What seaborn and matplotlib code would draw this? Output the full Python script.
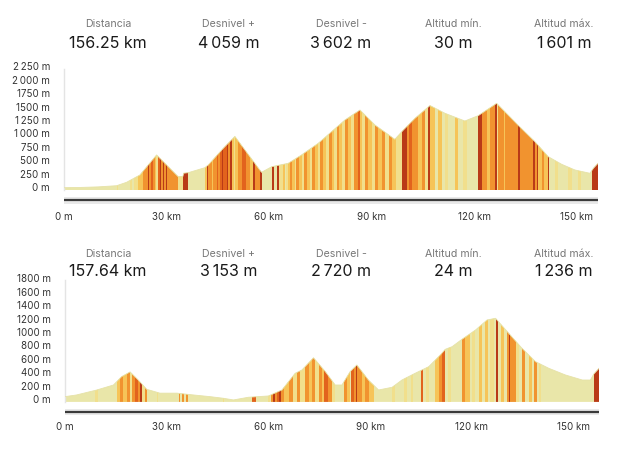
"""
Elevation profiles of two stages, coloured by slope
"""

import numpy as np
import matplotlib
matplotlib.use("Agg")
import matplotlib.pyplot as plt
from matplotlib.patches import Polygon
from matplotlib.transforms import ScaledTranslation
import seaborn as sns

# slope classes: pale (flat) -> red (steep)
SLOPE_COLORS = ["#e9e6a9", "#f1df8c", "#f6c458", "#f1932f", "#e2631d", "#b93a17"]

HEADER_LABELS = ["Distancia", "Desnivel +", "Desnivel -", "Altitud mín.", "Altitud máx."]
TOP_HEADER_VALUES = ["156.25 km", "4\u2009059 m", "3\u2009602 m", "30 m", "1\u2009601 m"]
BOTTOM_HEADER_VALUES = ["157.64 km", "3\u2009153 m", "2\u2009720 m", "24 m", "1\u2009236 m"]

X_TICKS = [0, 30, 60, 90, 120, 150]
X_TICK_LABELS = ["0 m", "30 km", "60 km", "90 km", "120 km", "150 km"]

TOP_Y_TICKS = [0, 250, 500, 750, 1000, 1250, 1500, 1750, 2000, 2250]
TOP_Y_LABELS = ["0 m", "250 m", "500 m", "750 m", "1\u2009000 m", "1\u2009250 m",
                "1500 m", "1750 m", "2\u2009000 m", "2\u2009250 m"]
BOTTOM_Y_TICKS = [0, 200, 400, 600, 800, 1000, 1200, 1400, 1600, 1800]
BOTTOM_Y_LABELS = ["0 m", "200 m", "400 m", "600 m", "800 m", "1000 m",
                   "1200 m", "1400 m", "1600 m", "1800 m"]

# stage 1 profile
TOP_KM = [0, 5, 10, 15.4, 18.3, 22.2, 27.1, 33.4, 34.8, 35.0, 36.4, 41.2, 42.2, 46.6,
          50.0, 54.4, 57.8, 60.8, 65.6, 69.5, 74.4, 78.3, 82.2, 86.6, 91.0, 96.8,
          99.3, 102.7, 107.1, 111.5, 117.3, 121.2, 126.6, 133.0, 137.8, 141.7,
          145.6, 149.5, 153.9, 154.9, 156.25]
TOP_ELEV = [30, 35, 45, 67, 130, 266, 640, 235, 240, 300, 310, 402, 452, 763,
            985, 607, 316, 421, 484, 639, 857, 1073, 1290, 1477, 1197, 931,
            1104, 1322, 1560, 1415, 1272, 1371, 1601, 1185, 886, 607,
            466, 360, 298, 391, 484]

# stage 1 coloured stripes (start km, end km, slope class)
TOP_STRIPE_START = [15.4, 19.3, 20.5, 21.7, 23.2, 24.7, 25.0, 25.6, 26.1, 26.6, 27.0, 27.4,
                    28.1, 28.4, 29.1, 29.4, 29.8, 30.1, 33.4, 34.9, 41.3, 41.7, 42.0, 43.2,
                    43.7, 44.7, 45.2, 45.6, 46.1, 46.6, 47.6, 48.1, 48.6, 49.1, 49.6,
                    50.0, 51.0, 52.0, 53.4, 54.4, 55.4, 55.9, 57.3, 60.8, 62.2, 62.9, 64.0,
                    65.0, 65.5, 66.1, 66.6, 67.5, 68.0, 68.8, 69.5, 70.2, 71.2, 72.0, 72.6,
                    73.5, 74.2, 75.0, 75.8, 76.6, 77.4, 78.3, 79.0, 79.8, 80.6, 81.4, 82.2,
                    83.2, 84.0, 85.0, 86.0, 86.6, 87.1, 88.0, 89.0, 90.0, 91.0, 92.0, 93.0,
                    94.0, 95.0, 96.0, 97.0, 98.8, 100.3, 101.0, 101.8,
                    102.7, 103.7, 104.7, 105.6, 106.6, 107.2, 109.5, 111.5, 114.4, 116.8,
                    121.2, 122.2, 123.7, 124.6, 126.1, 126.6, 127.1, 128.6, 129.0, 132.9,
                    133.3, 137.3, 137.7, 138.3, 138.7, 140.0, 140.5, 141.5, 143.6, 147.5,
                    150.4, 154.4]
TOP_STRIPE_END = [15.9, 19.8, 21.7, 23.2, 24.7, 25.0, 25.6, 26.1, 26.6, 27.0, 27.4, 28.1,
                  28.4, 29.1, 29.4, 29.8, 30.1, 33.4, 34.9, 36.4, 41.7, 42.0, 43.2, 43.7,
                  44.7, 45.2, 45.6, 46.1, 46.6, 47.6, 48.1, 48.6, 49.1, 49.6, 50.0,
                  51.0, 52.0, 53.4, 54.4, 55.4, 55.9, 57.3, 57.8, 61.5, 62.9, 64.0, 64.6,
                  65.5, 66.1, 66.6, 67.5, 68.0, 68.8, 69.5, 70.2, 71.2, 72.0, 72.6, 73.5,
                  74.2, 75.0, 75.8, 76.6, 77.4, 78.3, 79.0, 79.8, 80.6, 81.4, 82.2, 83.2,
                  84.0, 85.0, 86.0, 86.6, 87.1, 88.0, 89.0, 90.0, 91.0, 92.0, 93.0, 94.0,
                  95.0, 96.0, 97.0, 98.8, 100.3, 101.0, 101.8, 102.7,
                  103.7, 104.7, 105.6, 106.6, 107.2, 108.5, 110.5, 112.5, 115.4, 117.8,
                  122.2, 123.7, 124.6, 126.1, 126.6, 127.1, 128.6, 129.0, 132.9, 133.3,
                  137.3, 137.7, 138.3, 138.7, 140.0, 140.5, 141.5, 141.9, 144.6, 148.5,
                  151.4, 156.25]
TOP_STRIPE_CLASS = [1, 1, 1, 2, 3, 5, 3, 4, 3, 2, 1, 4,
                    5, 3, 5, 3, 5, 3, 1, 5, 2, 5, 3, 2,
                    3, 4, 3, 4, 5, 4, 5, 3, 5, 2, 1,
                    2, 3, 4, 3, 2, 5, 3, 5, 5, 5, 1, 2,
                    1, 2, 3, 2, 1, 3, 2, 1, 3, 2, 1, 3,
                    2, 1, 3, 2, 1, 3, 2, 1, 3, 2, 1, 3,
                    2, 1, 3, 4, 2, 1, 3, 2, 1, 3, 2, 3,
                    1, 3, 2, 1, 5, 3, 4, 3,
                    3, 2, 3, 1, 5, 2, 2, 1, 2, 1,
                    5, 3, 2, 3, 5, 1, 3, 2, 3, 5,
                    3, 5, 3, 5, 2, 3, 2, 5, 1, 1,
                    1, 5]

# stage 2 profile
BOTTOM_KM = [0, 3.4, 9.4, 14.3, 16.7, 19.2, 21.6, 24.1, 28.0, 33.0, 37.9, 42.8, 46.7,
             49.7, 54.1, 60.0, 64.0, 67.9, 69.9, 73.3, 76.8, 79.7, 81.7, 84.1, 86.1,
             89.5, 92.5, 96.5, 99.4, 103.3, 107.3, 110.7, 112.2, 114.2, 117.1, 121.1,
             124.5, 127.0, 130.9, 134.8, 138.8, 142.7, 147.6, 152.6, 155.0, 156.0, 157.64]
BOTTOM_ELEV = [73, 98, 172, 246, 370, 440, 320, 182, 125, 125, 98, 73, 49,
               24, 64, 83, 172, 420, 469, 650, 444, 246, 246, 444, 543,
               320, 172, 212, 320, 420, 518, 691, 776, 815, 924, 1062,
               1211, 1236, 1013, 791, 592, 494, 395, 320, 320, 409, 500]

# stage 2 coloured stripes
BOTTOM_STRIPE_START = [8.9, 15.3, 16.2, 17.2, 18.2, 19.2, 19.7, 20.7, 21.4, 22.1, 22.6, 23.6,
                       27.1, 33.5, 34.5, 35.7, 46.5, 55.3, 60.0, 60.8, 61.5, 62.0, 62.5,
                       63.2, 63.7, 64.5, 66.0, 67.4, 68.4, 69.4, 70.9, 72.1, 72.8, 73.8,
                       74.8, 75.8, 76.3, 77.7, 78.7, 82.2, 83.2, 84.5, 85.2, 85.8, 86.2,
                       87.6, 88.6, 89.6, 96.5, 99.9, 102.0, 105.1, 106.5, 109.2, 110.2,
                       111.2, 113.0, 117.1, 118.1, 120.0, 122.0, 124.0, 125.5, 127.0,
                       128.5, 130.4, 131.0, 131.4, 132.9, 134.8, 136.8, 138.3, 139.8, 156.0]
BOTTOM_STRIPE_END = [9.8, 16.2, 17.2, 18.2, 19.2, 19.7, 20.7, 21.4, 22.1, 22.6, 23.6, 24.1,
                     27.5, 34.0, 35.1, 36.2, 47.0, 56.3, 60.5, 61.5, 62.0, 62.5, 63.0,
                     63.7, 64.5, 66.0, 67.4, 68.4, 69.4, 70.9, 72.1, 72.8, 73.8, 74.8,
                     75.8, 76.3, 77.7, 78.7, 79.7, 83.2, 84.2, 85.2, 85.8, 86.2, 87.6,
                     88.6, 89.6, 91.2, 97.3, 100.9, 102.6, 105.5, 107.5, 110.2, 111.2,
                     112.0, 114.0, 118.1, 119.5, 121.0, 123.0, 124.7, 126.5, 127.7,
                     129.5, 131.0, 131.4, 132.9, 133.9, 135.8, 137.8, 139.3, 140.3, 157.64]
BOTTOM_STRIPE_CLASS = [1, 2, 3, 2, 3, 1, 3, 4, 3, 5, 1, 3,
                       1, 3, 3, 3, 1, 4, 1, 3, 5, 3, 4,
                       5, 3, 2, 3, 1, 3, 1, 3, 2, 3, 1,
                       3, 2, 4, 3, 1, 3, 2, 4, 3, 5, 3,
                       2, 3, 2, 1, 1, 1, 4, 1, 2, 3,
                       4, 1, 3, 2, 1, 2, 2, 1, 5,
                       2, 3, 5, 3, 1, 3, 2, 3, 1, 5]

FIG_W, FIG_H = 640, 454
FONT = ["Inter", "DejaVu Sans"]


def draw_profile(fig, rect, km, elev, starts, ends, classes, y_ticks, y_labels, y_min, y_max):
    """Draw one slope-coloured elevation profile"""
    ax = fig.add_axes(rect)
    x_max = km[-1]

    base = Polygon(np.column_stack([[km[0]] + list(km) + [x_max], [y_min] + list(elev) + [y_min]]),
                   closed=True, facecolor=SLOPE_COLORS[0], edgecolor="none", zorder=1)
    ax.add_patch(base)

    for a, b, c in zip(starts, ends, classes):
        span = ax.axvspan(a, b, color=SLOPE_COLORS[c], lw=0, zorder=2)
        span.set_clip_path(base)

    sns.lineplot(x=km, y=elev, ax=ax, color="#e6e2a8", lw=0.6, zorder=3)

    ax.set_xlim(0, x_max)
    ax.set_ylim(y_min, y_max)
    ax.set_yticks(y_ticks)
    ax.set_yticklabels(y_labels, fontsize=7, color="#333333", family=FONT)
    ax.set_xticks([])
    ax.tick_params(axis="y", length=0, pad=10)
    # labels sit a little above their level in the original
    lift = ScaledTranslation(0, 0.022, fig.dpi_scale_trans)
    for lab in ax.get_yticklabels():
        lab.set_transform(lab.get_transform() + lift)
    for side in ["top", "right", "bottom"]:
        ax.spines[side].set_visible(False)
    ax.spines["left"].set_color("#e4e4e4")
    ax.spines["left"].set_linewidth(1.0)
    return ax


def draw_slider(fig, rect, x_max):
    """Draw the range bar with the distance ticks under a profile"""
    ax = fig.add_axes(rect)
    ax.set_xlim(0, x_max)
    ax.set_ylim(0, 1)
    ax.axhspan(0, 1, color="#e9e9e9", lw=0)
    ax.axhline(0.5, color="#3a3a3a", lw=1.6)
    ax.set_yticks([])
    ax.set_xticks(X_TICKS)
    ax.set_xticklabels(X_TICK_LABELS, fontsize=7, color="#333333", family=FONT)
    ax.tick_params(axis="x", length=4, width=0.8, color="#e2e2e2", pad=1.5)
    for side in ax.spines:
        ax.spines[side].set_visible(False)


def draw_header(fig, values, y_label, y_value):
    """Write the summary numbers above a profile"""
    centers = [108, 229, 341, 453, 564]
    for cx, label, value in zip(centers, HEADER_LABELS, values):
        fig.text(cx / FIG_W, 1 - y_label / FIG_H, label, ha="center", va="center",
                 fontsize=7.6, color="#777777", family=FONT)
        fig.text(cx / FIG_W, 1 - y_value / FIG_H, value, ha="center", va="center",
                 fontsize=11.5, color="#1a1a1a", family=FONT)


def px_rect(left, top, right, bottom):
    """Pixel box to figure fraction rect"""
    return [left / FIG_W, 1 - bottom / FIG_H, (right - left) / FIG_W, (bottom - top) / FIG_H]


def main():
    sns.set_theme(style="white")
    plt.rcParams["font.family"] = FONT

    fig = plt.figure(figsize=(FIG_W / 100, FIG_H / 100), dpi=100)
    fig.patch.set_facecolor("white")

    # stage 1
    draw_header(fig, TOP_HEADER_VALUES, 24, 43)
    draw_profile(fig, px_rect(64, 68.5, 598, 190.1), TOP_KM, TOP_ELEV,
                 TOP_STRIPE_START, TOP_STRIPE_END, TOP_STRIPE_CLASS,
                 TOP_Y_TICKS, TOP_Y_LABELS, -15, 2250)
    draw_slider(fig, px_rect(64, 197, 598, 204), TOP_KM[-1])

    # stage 2
    draw_header(fig, BOTTOM_HEADER_VALUES, 254, 272)
    draw_profile(fig, px_rect(65, 280.3, 599.4, 401.9), BOTTOM_KM, BOTTOM_ELEV,
                 BOTTOM_STRIPE_START, BOTTOM_STRIPE_END, BOTTOM_STRIPE_CLASS,
                 BOTTOM_Y_TICKS, BOTTOM_Y_LABELS, -5, 1800)
    draw_slider(fig, px_rect(65, 408.5, 599.4, 414.5), BOTTOM_KM[-1])

    fig.savefig("out.png", dpi=100)
    plt.close(fig)


if __name__ == "__main__":
    main()
